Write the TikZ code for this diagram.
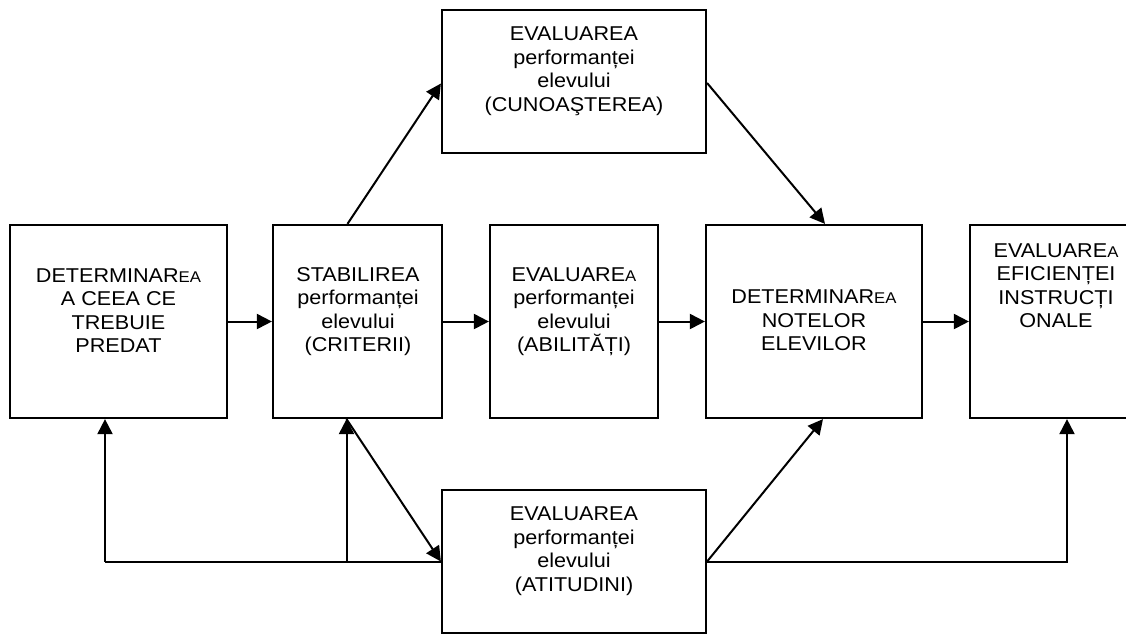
\documentclass[tikz,border=0pt]{standalone}
\usepackage{fontspec}
\setmainfont{Liberation Sans}[FakeStretch=1.08]
\usetikzlibrary{arrows.meta,calc}
\newcommand{\smEA}{{\fontsize{15.5}{15.5}\selectfont EA}}
\newcommand{\smA}{{\fontsize{15.5}{15.5}\selectfont A}}
\begin{document}
\begin{tikzpicture}[x=1pt,y=-1pt,
  box/.style={draw,line width=2.2pt,inner sep=0pt},
  lbl/.style={anchor=north,align=center,inner sep=0pt,font=\fontsize{20}{23.5}\selectfont},
  arr/.style={line width=2pt,-{Triangle[length=15pt,width=15pt]}},
  ln/.style={line width=2pt}]
\useasboundingbox (0,0) rectangle (1126,633);
\clip (0,0) rectangle (1126,633);
% boxes
\node[box,minimum width=217,minimum height=193] (b1) at (118.5,321.5) {};
\node[box,minimum width=169,minimum height=193] (b2) at (357.5,321.5) {};
\node[box,minimum width=168,minimum height=193] (b3) at (574,321.5) {};
\node[box,minimum width=216,minimum height=193] (b4) at (814,321.5) {};
\node[box,minimum width=172,minimum height=193] (b5) at (1056,321.5) {};
\node[box,minimum width=264,minimum height=143] (top) at (574,81.5) {};
\node[box,minimum width=264,minimum height=143] (bot) at (574,561.5) {};
% texts
\node[lbl] (t1) at (118.5,268.3) {DETERMINAR\smEA\\A CEEA CE\\TREBUIE\\PREDAT};
\node[lbl] (t2) at (358,267.3) {STABILIREA\\performanței\\elevului\\(CRITERII)};
\node[lbl] (t3) at (574,267.3) {EVALUARE\smA\\performanței\\elevului\\(ABILITĂȚI)};
\node[lbl] (t4) at (814,290) {DETERMINAR\smEA\\NOTELOR\\ELEVILOR};
\node[lbl] (t5) at (1056,243.3) {EVALUARE\smA\\EFICIENȚEI\\INSTRUCȚI\\ONALE};
\node[lbl] (tt) at (574,26.7) {EVALUAREA\\performanței\\elevului\\(CUNOAŞTEREA)};
\node[lbl] (tb) at (574,506.7) {EVALUAREA\\performanței\\elevului\\(ATITUDINI)};
% junction coordinates
\coordinate (fL) at (105,561.5);
\coordinate (fM) at (346.5,561.5);
\coordinate (fR) at (1067,561.5);
% main flow
\draw[arr] (b1.east) -- (b2.west);
\draw[arr] (b2.east) -- (b3.west);
\draw[arr] (b3.east) -- (b4.west);
\draw[arr] (b4.east) -- (b5.west);
% upper branch
\draw[arr] ($(b2.north)+(-10,0)$) -- ($(top.west)+(0,2)$);
\draw[arr] ($(top.east)+(0,1.5)$) -- ($(b4.north)+(11,0)$);
% lower branch
\draw[arr] (fM |- b2.south) -- (bot.west);
\draw[arr] (bot.east) -- ($(b4.south)+(9,0)$);
\draw[arr] (bot.east) -- (fR) -- (fR |- b5.south);
\draw[ln] (bot.west) -- (fM) -- (fL);
\draw[arr] (fL) -- (fL |- b1.south);
\draw[arr] (fM) -- (fM |- b2.south);
\end{tikzpicture}
\end{document}
